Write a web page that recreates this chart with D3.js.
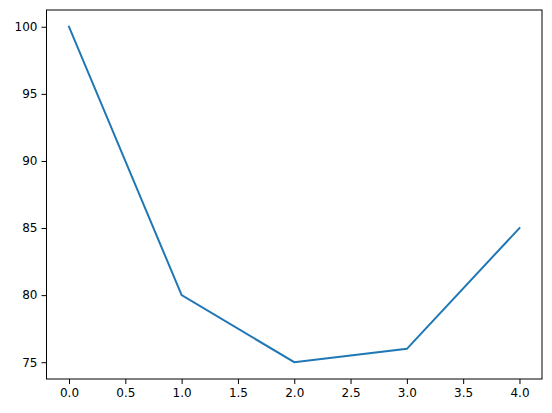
<!DOCTYPE html>
<html>
<head>
<meta charset="utf-8">
<script src="https://cdn.jsdelivr.net/npm/d3@7"></script>
<style>
  body { margin: 0; background: #fff; }
  text { font-family: "DejaVu Sans", sans-serif; }
</style>
</head>
<body>
<script>
// Data
const xValues = [0, 1, 2, 3, 4];
const yValues = [100, 80, 75, 76, 85];
const xTicks = [0, 0.5, 1, 1.5, 2, 2.5, 3, 3.5, 4];
const yTicks = [75, 80, 85, 90, 95, 100];

const W = 552, H = 413;
const margin = {top: 10, right: 10, bottom: 34, left: 46.5};
const width = W - margin.left - margin.right;
const height = H - margin.top - margin.bottom;

const svg = d3.select('body').append('svg')
  .attr('width', W)
  .attr('height', H);

const g = svg.append('g')
  .attr('transform', `translate(${margin.left},${margin.top})`);

// matplotlib-like 5% padding
const xscale = d3.scaleLinear().domain([-0.2, 4.2]).range([0, width]);
const yscale = d3.scaleLinear().domain([73.75, 101.25]).range([height, 0]);

const xaxis = d3.axisBottom(xscale).tickValues(xTicks)
  .tickFormat(d3.format('.1f')).tickSize(5).tickPadding(4).tickSizeOuter(0);
const yaxis = d3.axisLeft(yscale).tickValues(yTicks)
  .tickFormat(d3.format('d')).tickSize(5).tickPadding(4).tickSizeOuter(0);

const gx = g.append('g').attr('transform', `translate(0,${height})`).call(xaxis);
const gy = g.append('g').call(yaxis);

[gx, gy].forEach(a => {
  a.select('.domain').remove();
  a.selectAll('text').attr('font-size', 12).attr('fill', '#000')
    .style('font-family', '"DejaVu Sans", sans-serif');
  a.selectAll('line').attr('stroke', '#000').attr('stroke-width', 1);
});

// line
const line = d3.line()
  .x((d, i) => xscale(xValues[i]))
  .y(d => yscale(d));

g.append('path')
  .datum(yValues)
  .attr('fill', 'none')
  .attr('stroke', '#1f77b4')
  .attr('stroke-width', 2)
  .attr('stroke-linecap', 'square')
  .attr('d', line);

// frame
g.append('rect')
  .attr('width', width)
  .attr('height', height)
  .attr('fill', 'none')
  .attr('stroke', '#000')
  .attr('stroke-width', 1);
</script>
</body>
</html>
